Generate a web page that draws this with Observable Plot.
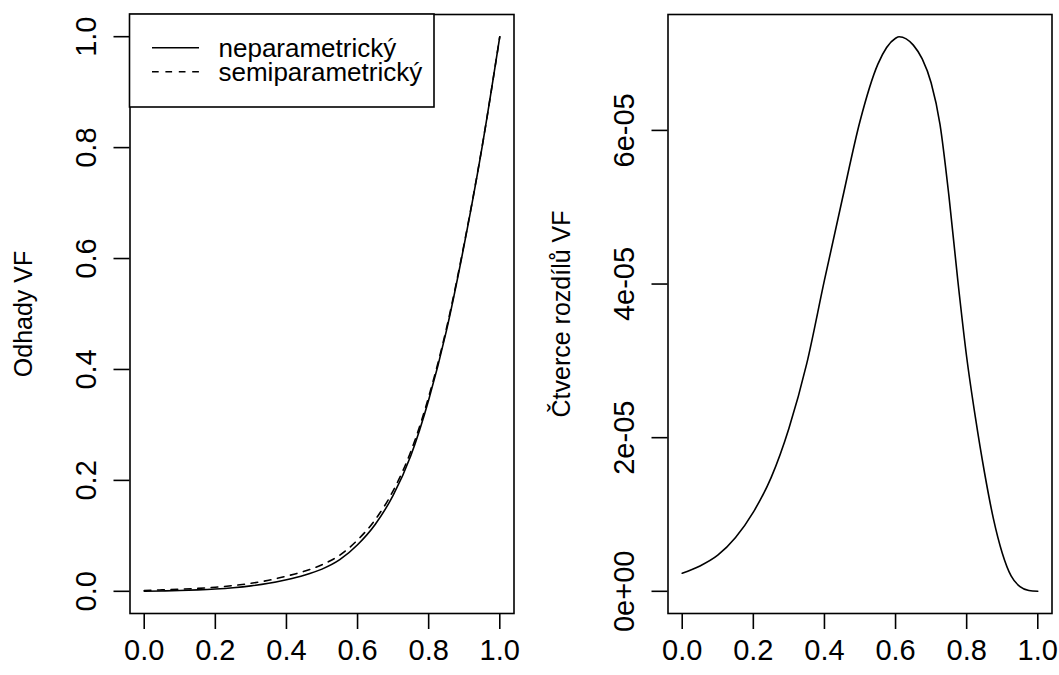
<!DOCTYPE html>
<html>
<head>
<meta charset="utf-8">
<script src="https://cdn.jsdelivr.net/npm/d3@7"></script>
<script src="https://cdn.jsdelivr.net/npm/@observablehq/plot@0.6"></script>
<style>
  html, body { margin: 0; padding: 0; background: #fff; }
  #wrap { display: flex; width: 1059px; height: 675px; }
</style>
</head>
<body>
<div id="wrap"></div>
<script>
// Estimates of the distribution function on [0, 1]
const gridX = [0, 0.05, 0.1, 0.15, 0.2, 0.25, 0.3, 0.35, 0.4, 0.45, 0.5,
               0.55, 0.6, 0.65, 0.7, 0.75, 0.8, 0.85, 0.9, 0.95, 1];
const neparametricky = [0, 0.0007, 0.0015, 0.0026, 0.0042, 0.0065, 0.0098, 0.0145, 0.021, 0.029, 0.040,
                        0.057, 0.084, 0.121, 0.173, 0.245, 0.345, 0.47, 0.625, 0.80, 1.0];
const semiparametricky = [0.0015, 0.0026, 0.0037, 0.0053, 0.0074, 0.0103, 0.0144, 0.0199, 0.0274, 0.0361, 0.0478,
                          0.0653, 0.0925, 0.1294, 0.1811, 0.2523, 0.3505, 0.474, 0.6271, 0.8008, 1.0];

// Squared differences of the two estimates
const diffX = [0, 0.05, 0.1, 0.15, 0.2, 0.25, 0.3, 0.35, 0.4, 0.45, 0.5, 0.55, 0.6, 0.61,
               0.65, 0.675, 0.7, 0.725, 0.75, 0.775, 0.8, 0.825, 0.85, 0.875, 0.9, 0.925, 0.95, 0.975, 1];
const diffSq = [0.235e-5, 0.33e-5, 0.47e-5, 0.70e-5, 1.03e-5, 1.48e-5, 2.12e-5, 2.96e-5, 4.05e-5, 5.1e-5,
                6.12e-5, 6.86e-5, 7.20e-5, 7.22e-5, 7.11e-5, 6.93e-5, 6.62e-5, 6.08e-5, 5.15e-5, 4.05e-5,
                3.05e-5, 2.25e-5, 1.55e-5, 0.95e-5, 0.5e-5, 0.2e-5, 0.06e-5, 0.01e-5, 0];

const xTicks = [0, 0.2, 0.4, 0.6, 0.8, 1];
const yTicksLeft = [0, 0.2, 0.4, 0.6, 0.8, 1];
const yTicksRight = [0, 2e-5, 4e-5, 6e-5];
const legendLabels = ["neparametrický", "semiparametrický"];

const FONT = "'Liberation Sans', Arial, Helvetica, sans-serif";
const LW = 1.6;
const TICK_FS = 29, TITLE_FS = 25, LEGEND_FS = 26;

// R-style 4% padding around the data range
function padded([lo, hi]) { const r = hi - lo; return [lo - 0.04 * r, hi + 0.04 * r]; }
const fmt1 = d3.format(".1f");
const fmtExp = (v) => v === 0 ? "0e+00" : v.toExponential(0).replace(/e([+-])(\d)$/, "e$10$2");

const common = {
  height: 675,
  marginTop: 14,
  marginBottom: 62,
  style: { fontFamily: FONT, fontSize: TICK_FS + "px", color: "#000", background: "#fff", overflow: "visible" }
};

function axes(ticksY, fmtY) {
  return [
    Plot.axisX(xTicks, { tickSize: 16, tickPadding: 10, tickFormat: fmt1, stroke: "#000", strokeWidth: LW, fontSize: TICK_FS }),
    Plot.axisY(ticksY, { tickSize: 16, tickPadding: 18, tickRotate: -90, tickFormat: fmtY, stroke: "#000", strokeWidth: LW, fontSize: TICK_FS })
  ];
}

function yTitle(text) {
  return Plot.text([text], { frameAnchor: "left", textAnchor: "middle", rotate: -90, dx: -106, fontSize: TITLE_FS });
}

const left = gridX.map((x, i) => ({ x, np: neparametricky[i], sp: semiparametricky[i] }));
const right = diffX.map((x, i) => ({ x, d: diffSq[i] }));

const plotLeft = Plot.plot({
  ...common,
  width: 530,
  marginLeft: 129.5,
  marginRight: 16.5,
  x: { domain: padded(d3.extent(gridX)), label: null },
  y: { domain: padded([0, 1]), label: null },
  marks: [
    ...axes(yTicksLeft, fmt1),
    Plot.line(left, { x: "x", y: "sp", stroke: "#000", strokeWidth: LW, strokeDasharray: "6.7,6.7", curve: "monotone-x" }),
    Plot.line(left, { x: "x", y: "np", stroke: "#000", strokeWidth: LW, curve: "monotone-x" }),
    yTitle("Odhady VF"),
    Plot.frame({ stroke: "#000", strokeWidth: LW })
  ]
});

const [dLo, dHi] = d3.extent(diffSq);
const plotRight = Plot.plot({
  ...common,
  width: 529,
  marginLeft: 137.5,
  marginRight: 7.5,
  x: { domain: padded(d3.extent(diffX)), label: null },
  y: { domain: padded([dLo, dHi]), label: null },
  marks: [
    ...axes(yTicksRight, fmtExp),
    Plot.line(right, { x: "x", y: "d", stroke: "#000", strokeWidth: LW, curve: "monotone-x" }),
    yTitle("Čtverce rozdílů VF"),
    Plot.frame({ stroke: "#000", strokeWidth: LW })
  ]
});

// Legend box in the top-left corner of the left panel
(function addLegend(svg) {
  const g = d3.select(svg).append("g")
    .attr("font-family", FONT).attr("font-size", LEGEND_FS).attr("text-anchor", "start");
  const x0 = 129.5, y0 = 14, w = 304.5, h = 93;
  g.append("rect").attr("x", x0).attr("y", y0).attr("width", w).attr("height", h)
    .attr("fill", "#fff").attr("stroke", "#000").attr("stroke-width", LW);
  const dashes = [null, "6.7,6.7"];
  legendLabels.forEach((label, i) => {
    const y = y0 + 33.7 + i * 24;
    g.append("line").attr("x1", x0 + 22.5).attr("x2", x0 + 69.5).attr("y1", y).attr("y2", y)
      .attr("stroke", "#000").attr("stroke-width", LW).attr("stroke-dasharray", dashes[i]);
    g.append("text").attr("x", x0 + 89).attr("y", y).attr("dy", "0.35em").text(label);
  });
})(plotLeft);

document.getElementById("wrap").append(plotLeft, plotRight);
</script>
</body>
</html>
